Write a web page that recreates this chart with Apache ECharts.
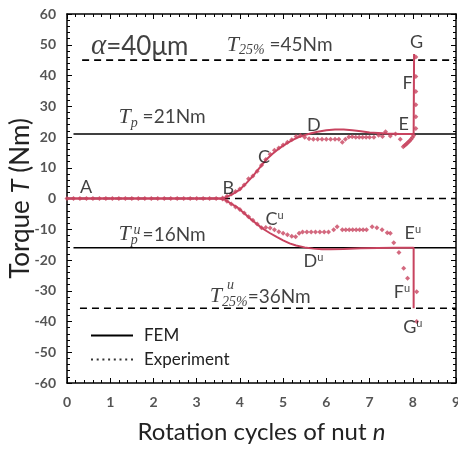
<!DOCTYPE html>
<html>
<head>
<meta charset="utf-8">
<script src="https://cdn.jsdelivr.net/npm/echarts@6/dist/echarts.min.js"></script>
<style>
  html, body { margin: 0; padding: 0; background: #fff; }
  #chart { width: 458px; height: 449px; }
</style>
</head>
<body>
<div id="chart"></div>
<script>
// axis ticks
const xTicks = [0, 1, 2, 3, 4, 5, 6, 7, 8, 9];
const yTicks = [-60, -50, -40, -30, -20, -10, 0, 10, 20, 30, 40, 50, 60];

// reference levels (Nm)
const t25Upper = [[0.35, 45], [9, 45]];
const tpUpper = [[0.15, 21], [9, 21]];
const zeroLine = [[0, 0], [9, 0]];
const tpLower = [[0.15, -16], [9, -16]];
const t25Lower = [[0.3, -35.7], [9, -35.7]];

// FEM curves [n, T]
const femUpper = [
  [0, 0], [3.5, 0], [3.64, 0.2], [3.8, 1.2], [4.0, 2.9], [4.15, 5.0], [4.3, 7.3], [4.45, 9.9],
  [4.6, 12.5], [4.75, 14.5], [4.9, 16.2], [5.05, 17.6], [5.2, 18.9], [5.35, 19.9], [5.5, 20.6],
  [5.65, 21.2], [5.8, 21.7], [6.0, 22.2], [6.2, 22.4], [6.4, 22.4], [6.6, 22.2], [6.8, 21.9],
  [7.0, 21.5], [7.2, 21.3], [7.4, 21.1], [7.7, 21.0], [8.02, 21.0], [8.03, 47]
];
const femLower = [
  [0, 0], [3.5, 0], [3.64, -0.3], [3.8, -1.7], [3.95, -3.0], [4.1, -4.8], [4.25, -6.7],
  [4.4, -8.4], [4.55, -10.0], [4.7, -11.3], [4.85, -12.5], [5.0, -13.6], [5.15, -14.6],
  [5.3, -15.3], [5.5, -15.9], [5.7, -16.3], [5.9, -16.5], [6.1, -16.5], [6.4, -16.4],
  [6.8, -16.2], [7.2, -16.1], [7.6, -16.0], [8.02, -16], [8.02, -35.7]
];

// experiment points [n, T]
const expUpper = [
  [0, 0], [0.15, 0], [0.3, 0], [0.45, 0], [0.6, 0], [0.75, 0], [0.9, 0], [1.05, 0], [1.2, 0],
  [1.35, 0], [1.5, 0], [1.65, 0], [1.8, 0], [1.95, 0], [2.1, 0], [2.25, 0], [2.4, 0], [2.55, 0],
  [2.7, 0], [2.85, 0], [3.0, 0], [3.15, 0], [3.3, 0], [3.45, 0], [3.6, 0.2],
  [3.7, 0.7], [3.8, 1.5], [3.9, 2.3], [4.0, 3.1], [4.1, 4.4], [4.2, 6.4], [4.3, 7.3], [4.4, 8.9],
  [4.5, 10.8], [4.6, 12.7], [4.7, 14.4], [4.8, 15.7], [4.9, 16.4], [5.0, 17.4], [5.1, 18.3],
  [5.2, 19.1], [5.3, 20.2], [5.4, 20.5], [5.5, 19.9], [5.6, 19.4], [5.7, 19.3], [5.8, 19.3],
  [5.9, 19.3], [6.0, 19.3], [6.1, 19.3], [6.2, 19.3], [6.29, 19.3], [6.37, 18.3], [6.44, 19.3],
  [6.52, 20.0], [6.6, 20.1], [6.68, 19.9], [6.76, 19.9], [6.84, 19.9], [6.92, 19.9], [7.0, 19.9],
  [7.1, 19.9], [7.21, 20.6], [7.3, 20.2], [7.37, 21.7], [7.48, 20.3], [7.6, 21.0], [7.71, 19.3],
  [7.78, 16.8], [7.81, 17.2], [7.84, 17.6], [7.87, 18.0], [7.9, 18.4], [7.93, 18.8], [7.96, 19.3],
  [7.99, 19.8], [8.02, 20.5],
  [8.07, 22.8], [8.07, 26.6], [8.07, 30.5], [8.07, 34.8], [8.07, 39.7], [8.07, 46]
];
const expLower = [
  [3.6, -0.2], [3.7, -0.9], [3.8, -1.8], [3.9, -2.8], [4.0, -3.6], [4.1, -4.7], [4.2, -5.9],
  [4.3, -7.1], [4.4, -8.3], [4.5, -9.5], [4.6, -9.4], [4.7, -9.6], [4.8, -10.2], [4.9, -10.8],
  [5.0, -11.3], [5.1, -11.8], [5.2, -12.3], [5.29, -12.4], [5.37, -11.3], [5.45, -10.9],
  [5.55, -10.9], [5.65, -10.9], [5.75, -10.9], [5.85, -10.9], [5.95, -10.9], [6.05, -10.9],
  [6.17, -10.2], [6.25, -9.2], [6.37, -10.2], [6.45, -10.2], [6.53, -10.2], [6.61, -10.2],
  [6.69, -10.2], [6.77, -10.2], [6.85, -10.2], [6.93, -10.2], [7.06, -9.2], [7.17, -9.5],
  [7.29, -10.2], [7.41, -11.1], [7.48, -11.3], [7.56, -14.4], [7.68, -17.6], [7.79, -22.7],
  [7.88, -25.9], [8.09, -30.3], [8.09, -40]
];

// text annotations: label, n, T
const notes = [
  ['{big|α}{bigs|=40μm}', 1.68, 49.5],
  ['{t|T}{sub|25%}{s| =45Nm}', 4.92, 50],
  ['{t|T}{sub|p}{s| =21Nm}', 2.2, 26.5],
  ['{t|T}{sub|p}{s| =16Nm}', 2.2, -11.7],
  ['{su|u}', 1.62, -10.2],
  ['{t|T}{sub|25%}{s|=36Nm}', 4.47, -31.9],
  ['{su|u}', 3.78, -28.2],
  ['A', 0.44, 3.7],
  ['B', 3.73, 3.4],
  ['C', 4.56, 13.5],
  ['D', 5.71, 23.9],
  ['E', 7.79, 24.2],
  ['F', 7.88, 37.6],
  ['G', 8.09, 50.9],
  ['C{u|u}', 4.8, -6.7],
  ['D{u|u}', 5.7, -20.3],
  ['E{u|u}', 8.0, -11.2],
  ['F{u|u}', 7.75, -30.4],
  ['G{u|u}', 8.0, -41.8]
];

const RED = '#c8435f';
const SANS = 'Lato';
const SERIF = 'Liberation Serif';

const chart = echarts.init(document.getElementById('chart'));

const refLine = (data, type) => ({
  type: 'line',
  data: data,
  symbol: 'none',
  silent: true,
  z: 1,
  lineStyle: { color: '#000', width: 1.6, type: type === 'dashed' ? [7, 5] : 'solid' }
});

const tickStyle = { color: '#000', width: 1 };

const xBase = {
  type: 'value', min: 0, max: 9, interval: 1,
  splitLine: { show: false },
  axisLine: { onZero: false, lineStyle: { color: '#000', width: 1.5 } },
  axisTick: { inside: true, length: 5, lineStyle: tickStyle },
  minorTick: { show: true, splitNumber: 5, length: 3, lineStyle: tickStyle }
};
const yBase = {
  type: 'value', min: -60, max: 60, interval: 10,
  splitLine: { show: false },
  axisLine: { onZero: false, lineStyle: { color: '#000', width: 1.5 } },
  axisTick: { inside: true, length: 5, lineStyle: tickStyle },
  minorTick: { show: true, splitNumber: 5, length: 3, lineStyle: tickStyle }
};

const option = {
  animation: false,
  backgroundColor: '#fff',
  grid: { left: 67, right: 2, top: 14, bottom: 66, outerBoundsMode: 'none', containLabel: false },
  legend: {
    orient: 'vertical',
    left: 86,
    top: 322,
    itemWidth: 42,
    itemHeight: 2,
    itemGap: 7,
    textStyle: { fontFamily: SANS, fontSize: 17, color: '#222', padding: [0, 0, 0, 6] },
    data: [
      { name: 'FEM', icon: 'rect', itemStyle: { color: '#000' } },
      {
        name: 'Experiment',
        icon: 'path://M0,0h2v2h-2zM5.7,0h2v2h-2zM11.4,0h2v2h-2zM17.1,0h2v2h-2zM22.8,0h2v2h-2zM28.5,0h2v2h-2zM34.2,0h2v2h-2zM40,0h2v2h-2z',
        itemStyle: { color: '#000' }
      }
    ]
  },
  xAxis: [
    Object.assign({}, xBase, {
      position: 'bottom',
      name: 'Rotation cycles of nut {i|n}',
      nameLocation: 'middle',
      nameGap: 37,
      nameTextStyle: {
        fontFamily: SANS, fontSize: 24, color: '#222',
        rich: { i: { fontFamily: SANS, fontStyle: 'italic', fontSize: 24, color: '#222' } }
      },
      axisLabel: {
        margin: 12, fontFamily: SANS, fontSize: 14, fontWeight: 'bold', color: '#555',
        customValues: xTicks
      }
    }),
    Object.assign({}, xBase, { position: 'top', axisLabel: { show: false } })
  ],
  yAxis: [
    Object.assign({}, yBase, {
      position: 'left',
      name: 'Torque {i|T} (Nm)',
      nameLocation: 'middle',
      nameGap: 33,
      nameMoveOverlap: false,
      nameTextStyle: {
        fontFamily: SANS, fontSize: 26, color: '#222',
        rich: { i: { fontFamily: SANS, fontStyle: 'italic', fontSize: 26, color: '#222' } }
      },
      axisLabel: {
        margin: 11, fontFamily: SANS, fontSize: 14, fontWeight: 'bold', color: '#555',
        customValues: yTicks
      }
    }),
    Object.assign({}, yBase, { position: 'right', axisLabel: { show: false } })
  ],
  series: [
    refLine(t25Upper, 'dashed'),
    refLine(tpUpper, 'solid'),
    refLine(zeroLine, 'dashed'),
    refLine(tpLower, 'solid'),
    refLine(t25Lower, 'dashed'),
    {
      name: 'FEM', type: 'line', data: femUpper, symbol: 'none', z: 3,
      lineStyle: { color: RED, width: 2 }, itemStyle: { color: RED }
    },
    {
      name: 'FEM', type: 'line', data: femLower, symbol: 'none', z: 3,
      lineStyle: { color: RED, width: 2 }, itemStyle: { color: RED }
    },
    {
      name: 'Experiment', type: 'scatter', data: expUpper, symbol: 'diamond', symbolSize: 5, z: 4,
      itemStyle: { color: RED }
    },
    {
      name: 'Experiment', type: 'scatter', data: expLower, symbol: 'diamond', symbolSize: 5, z: 4,
      itemStyle: { color: RED }
    },
    {
      type: 'scatter', silent: true, symbolSize: 0, z: 10,
      data: notes.map(d => ({ name: d[0], value: [d[1], d[2]] })),
      label: {
        show: true, position: 'inside',
        formatter: p => p.name,
        fontFamily: SANS, fontSize: 18, color: '#111',
        rich: {
          u: { fontFamily: SANS, fontSize: 11, color: '#111', verticalAlign: 'top', lineHeight: 11 },
          su: { fontFamily: SERIF, fontStyle: 'italic', fontSize: 14, color: '#111' },
          big: { fontFamily: SERIF, fontStyle: 'italic', fontSize: 29, color: '#111', lineHeight: 30 },
          bigs: { fontFamily: SANS, fontSize: 26, color: '#111', lineHeight: 30 },
          t: { fontFamily: SERIF, fontStyle: 'italic', fontSize: 22, color: '#111', lineHeight: 26 },
          sub: { fontFamily: SERIF, fontStyle: 'italic', fontSize: 14, color: '#111', lineHeight: 14, verticalAlign: 'bottom' },
          s: { fontFamily: SANS, fontSize: 19, color: '#111', lineHeight: 24 }
        }
      }
    }
  ]
};

chart.setOption(option);
</script>
</body>
</html>
